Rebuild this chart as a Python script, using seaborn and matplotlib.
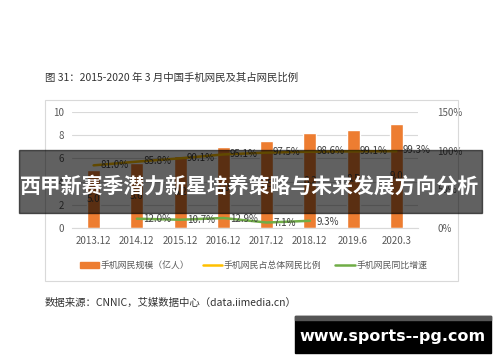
import numpy as np
import pandas as pd
import seaborn as sns
import matplotlib.pyplot as plt
from matplotlib.patches import Rectangle
from matplotlib.ticker import FuncFormatter

categories = ['2013.12', '2014.12', '2015.12', '2016.12', '2017.12', '2018.12', '2019.6', '2020.3']
users = [5.00, 5.57, 6.20, 6.95, 7.53, 8.17, 8.47, 8.97]
share = [81.0, 85.8, 90.1, 95.1, 97.5, 98.6, 99.1, 99.3]
growth_cats = ['2014.12', '2015.12', '2016.12', '2017.12', '2018.12']
growth = [12.0, 10.7, 12.9, 7.1, 9.3]

sns.set_style('white')
plt.rcParams['font.family'] = ['Noto Sans CJK SC', 'DejaVu Sans']

orange = '#ED7D31'
yellow = '#FFC000'
green = '#70AD47'
grey_txt = '#595959'

fig = plt.figure(figsize=(5, 3.62), dpi=100)
fig.patch.set_facecolor('white')

# outer chart frame
fig.patches.append(Rectangle((45 / 500, 1 - 281 / 362), 413 / 500, 181 / 362,
                             transform=fig.transFigure, fill=False,
                             edgecolor='#d9d9d9', lw=0.8, zorder=0))

ax = fig.add_axes([72 / 500, 1 - 228 / 362, 346 / 500, 116 / 362])
df = pd.DataFrame({'cat': categories, 'users': users})
sns.barplot(data=df, x='cat', y='users', color=orange, width=0.3,
            saturation=1, ax=ax, zorder=2)
ax.set_ylim(0, 10)
ax.set_xlim(-0.5, len(categories) - 0.5)
ax.set_yticks(range(0, 11, 2))
ax.grid(axis='y', color='#d9d9d9', lw=0.8, zorder=0)
ax.set_axisbelow(True)
for s in ['top', 'right', 'left']:
    ax.spines[s].set_visible(False)
ax.spines['bottom'].set_color('#d9d9d9')
ax.set_xlabel('')
ax.set_ylabel('')
ax.tick_params(axis='both', length=0, labelsize=7, colors=grey_txt, pad=6)
for i, v in enumerate(users):
    ax.text(i, v / 2, f'{v:.1f}', ha='center', va='center', fontsize=7, color='#404040')

ax2 = ax.twinx()
x_idx = np.arange(len(categories))
g_idx = [categories.index(c) for c in growth_cats]
sns.lineplot(x=x_idx, y=np.array(share) / 100, color=yellow, lw=1.8, ax=ax2)
sns.lineplot(x=g_idx, y=np.array(growth) / 100, color=green, lw=1.8, ax=ax2)
ax2.set_ylim(0, 1.5)
ax2.set_yticks([0, 0.5, 1.0, 1.5])
ax2.yaxis.set_major_formatter(FuncFormatter(lambda v, p: f'{v * 100:.0f}%'))
ax2.tick_params(axis='y', length=0, labelsize=7, colors=grey_txt, pad=14)
for s in ax2.spines.values():
    s.set_visible(False)
ax2.set_xlim(-0.5, len(categories) - 0.5)
for i, v in zip(x_idx, share):
    ax2.text(i + 0.15, v / 100 + 0.01, f'{v:.1f}%', fontsize=7, color='#404040', va='center')
for i, v in zip(g_idx, growth):
    ax2.text(i + 0.15, v / 100 - 0.01, f'{v:.1f}%', fontsize=7, color='#404040', va='center')

# legend
ly = 1 - 265 / 362
fig.patches.append(Rectangle((80 / 500, ly - 0.008), 19 / 500, 0.016,
                             transform=fig.transFigure, color=orange))
fig.text(101 / 500, ly, '手机网民规模（亿人）', fontsize=6.4, color=grey_txt, va='center')
fig.lines.append(plt.Line2D([203 / 500, 222 / 500], [ly, ly], transform=fig.transFigure, color=yellow, lw=1.8))
fig.text(224 / 500, ly, '手机网民占总体网民比例', fontsize=6.4, color=grey_txt, va='center')
fig.lines.append(plt.Line2D([335 / 500, 355 / 500], [ly, ly], transform=fig.transFigure, color=green, lw=1.8))
fig.text(357 / 500, ly, '手机网民同比增速', fontsize=6.4, color=grey_txt, va='center')

fig.text(45 / 500, 1 - 78 / 362, '图 31：2015-2020 年 3 月中国手机网民及其占网民比例',
         fontsize=7.5, color='#333333', va='center')
fig.text(45 / 500, 1 - 303 / 362, '数据来源：CNNIC，艾媒数据中心（data.iimedia.cn）',
         fontsize=7.5, color='#333333', va='center')

# overlay banner
fig.patches.append(Rectangle((19 / 500, 1 - 213 / 362), 463 / 500, 63 / 362,
                             transform=fig.transFigure, color='black', alpha=0.62, zorder=10))
fig.text(250 / 500, 1 - 186 / 362, '西甲新赛季潜力新星培养策略与未来发展方向分析',
         fontsize=15, color='white', fontweight='bold', ha='center', va='center', zorder=11)

# watermark box
fig.patches.append(Rectangle((295 / 500, 1 - 353 / 362), 196 / 500, 37 / 362,
                             transform=fig.transFigure, color='black', zorder=10))
fig.patches.append(Rectangle((295 / 500, 1 - 320 / 362), 196 / 500, 4 / 362,
                             transform=fig.transFigure, color='#555555', zorder=11))
fig.text(393 / 500, 1 - 337 / 362, 'www.sports--pg.com', fontsize=11.5, color='white',
         fontweight='bold', ha='center', va='center', family='DejaVu Sans', zorder=12)

fig.savefig('out.png', dpi=100)
